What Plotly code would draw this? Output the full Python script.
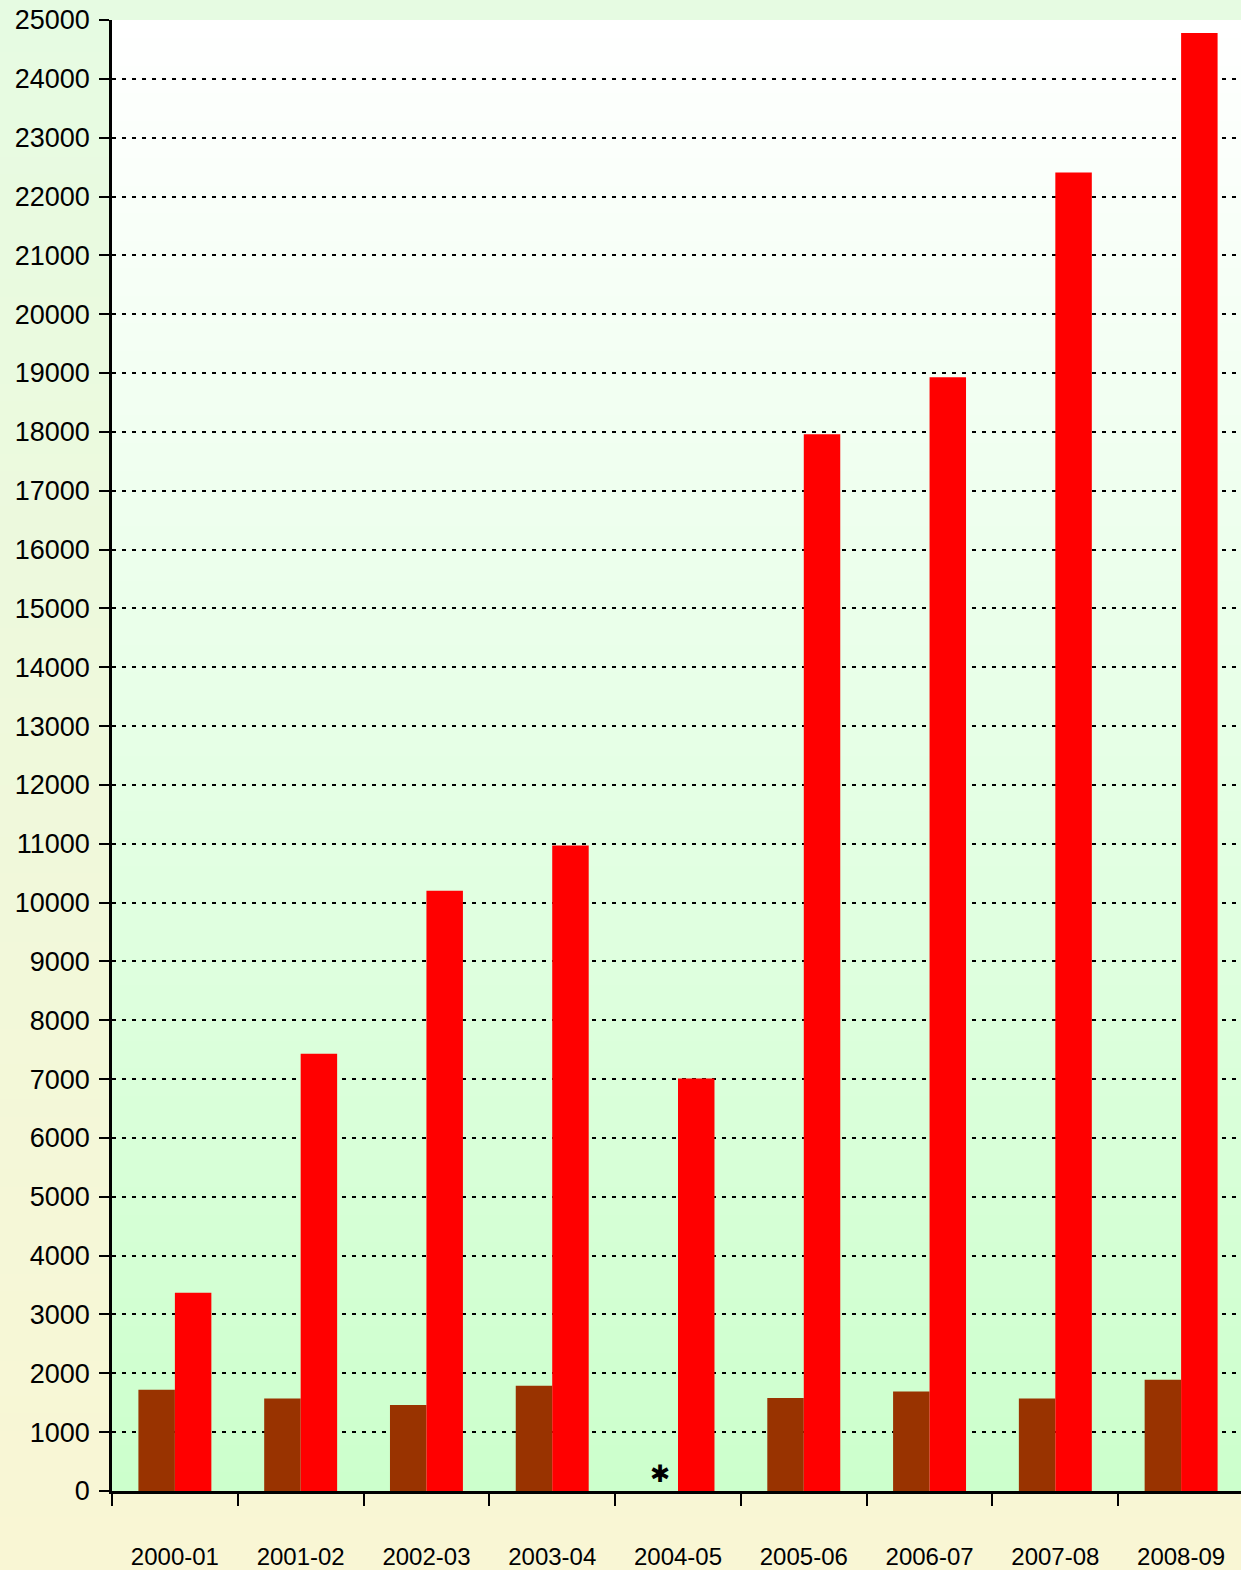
import plotly.graph_objects as go

years = ["2000-01", "2001-02", "2002-03", "2003-04", "2004-05",
         "2005-06", "2006-07", "2007-08", "2008-09"]
series_brown = [1720, 1570, 1460, 1790, 0, 1580, 1690, 1570, 1890]
series_red = [3370, 7430, 10200, 10970, 7010, 17960, 18930, 22410, 24780]

W, H = 1244, 1570
ML, MR, MT, MB = 112, 0, 20, 79

fig = go.Figure()
fig.add_trace(go.Bar(x=years, y=series_brown, marker=dict(color="#993300", line=dict(width=0)),
                     showlegend=False))
fig.add_trace(go.Bar(x=years, y=series_red, marker=dict(color="#ff0000", line=dict(width=0)),
                     showlegend=False))


def lerp(c1, c2, t):
    return "rgb(%d,%d,%d)" % tuple(round(a + (b - a) * t) for a, b in zip(c1, c2))


shapes = []
# paper gradient (full figure)
pw = W - ML - MR
ph = H - MT - MB
x0p, x1p = -ML / pw, 1 + MR / pw + 0.01
ytop, ybot = 1 + MT / ph, -MB / ph
N = 90
top_c, bot_c = (230, 251, 226), (249, 246, 212)
for i in range(N):
    t = i / (N - 1)
    y1 = ytop - (ytop - ybot) * i / N
    y0 = ytop - (ytop - ybot) * (i + 1) / N - 0.002
    shapes.append(dict(type="rect", xref="paper", yref="paper", x0=x0p, x1=x1p, y0=y0, y1=y1,
                       fillcolor=lerp(top_c, bot_c, t), line=dict(width=0), layer="below"))
# plot-area gradient
M = 160
for i in range(M):
    t = i / (M - 1)
    y1 = 1 - i / M
    y0 = 1 - (i + 1) / M - 0.001
    shapes.append(dict(type="rect", xref="paper", yref="paper", x0=0, x1=1.01, y0=max(y0, 0), y1=y1,
                       fillcolor=lerp((255, 255, 255), (204, 255, 204), t), line=dict(width=0),
                       layer="below"))

fig.update_layout(
    width=W, height=H,
    margin=dict(l=ML, r=MR, t=MT, b=MB),
    paper_bgcolor="#f0f8dc",
    plot_bgcolor="rgba(0,0,0,0)",
    barmode="group", bargap=0.42, bargroupgap=0,
    font=dict(family="Arial, Liberation Sans, sans-serif", color="black"),
    shapes=shapes,
    annotations=[dict(x="2004-05", y=290, xref="x", yref="y", text="\u2731", showarrow=False,
                      xshift=-18, font=dict(size=24, color="black", family="DejaVu Sans"),
                      yanchor="middle")],
)
fig.update_xaxes(
    type="category",
    showline=True, linecolor="black", linewidth=2.5,
    ticks="outside", tickson="boundaries", ticklen=12, tickwidth=2, tickcolor="black",
    ticklabelstandoff=42, tickfont=dict(size=24), showgrid=False,
)
fig.update_yaxes(
    range=[0, 25000], dtick=1000, tickformat="d", showline=True, linecolor="black", linewidth=2.5,
    ticks="outside", ticklen=10, tickwidth=2, tickcolor="black", tickfont=dict(size=27),
    ticklabelstandoff=4,
    showgrid=True, gridcolor="black", gridwidth=2, griddash="4px,6px", zeroline=False,
)
fig.write_html("out.html", config=dict(displayModeBar=False),
               post_script="document.body.style.margin='0';document.body.style.overflow='hidden';")
